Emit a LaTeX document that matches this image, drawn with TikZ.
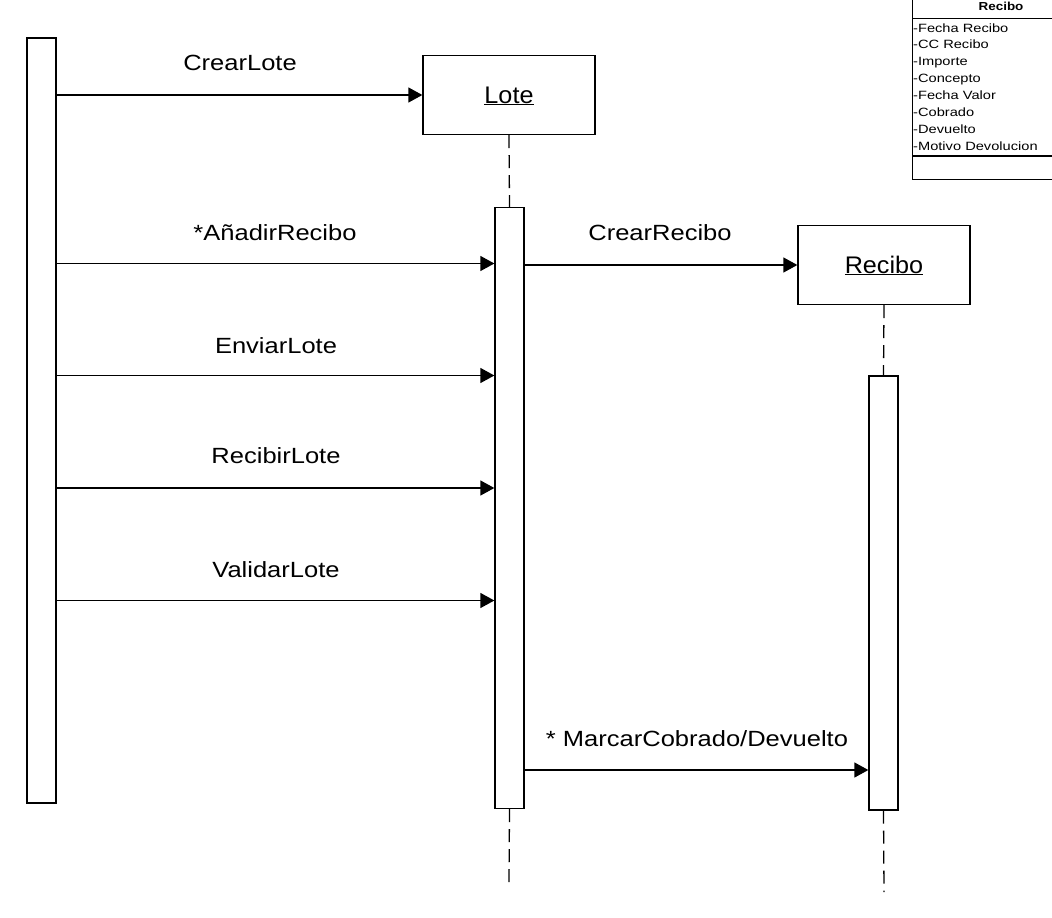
\documentclass[tikz,border=0pt]{standalone}
\usepackage{fontspec}
\setmainfont{Liberation Sans}
\usepackage{graphicx}
\usetikzlibrary{arrows.meta}
\newcommand{\msgtxt}[1]{\scalebox{1.16}[1]{\fontsize{22}{26}\selectfont #1}}
\newcommand{\objtxt}[1]{\scalebox{1.05}[1]{\fontsize{24}{28}\selectfont\underline{#1}}}
\newcommand{\attrtxt}[1]{\scalebox{1.22}[1]{\fontsize{12}{14}\selectfont #1}}
\newcommand{\clstxt}[1]{\scalebox{1.16}[1]{\fontsize{11.6}{14}\selectfont\bfseries #1}}
\begin{document}
\begin{tikzpicture}[x=1pt,y=-1pt,
  bar/.style={draw, fill=white, line width=1.3pt, minimum width=29pt, inner sep=0pt},
  obj/.style={draw, fill=white, line width=1.3pt, minimum width=172pt, minimum height=79pt, inner sep=0pt},
  msg/.style={line width=1.3pt, -{Triangle[length=14pt,width=15pt]}},
  life/.style={line width=1.3pt, dash pattern=on 13pt off 7pt},
  lbl/.style={anchor=base, inner sep=0pt},
  attr/.style={anchor=base west, inner sep=0pt},
  clsbox/.style={draw, line width=1.3pt, inner sep=0pt}]
\useasboundingbox (0,0) rectangle (1052,918);
\clip (0,0) rectangle (1052,918);
\fill[white] (0,0) rectangle (1052,918);

% lifelines (drawn first)
\node[obj] (lote) at (509,95) {};
\node[obj] (recibo) at (884,265) {};
\coordinate (loteend) at (509,883);
\coordinate (reciboend) at (884,892);
\node[bar, minimum height=765pt] (leftbar) at (41.5,420.5) {};
\node[bar, minimum height=601pt] (lotebar) at (509.5,508) {};
\node[bar, minimum height=434pt] (recibobar) at (883.5,593) {};
\draw[life] (lote.south) -- (lotebar.north);
\draw[life] (lotebar.south) -- (loteend);
\draw[life] (recibo.south) -- (recibobar.north);
\draw[life] (recibobar.south) -- (reciboend);
% redraw boxes on top
\node[obj] at (lote) {};
\node[lbl] at (509,103) {\objtxt{Lote}};
\node[obj] at (recibo) {};
\node[lbl] at (884,273) {\objtxt{Recibo}};

% message y levels
\coordinate (m2) at (0,263.5);
\coordinate (m3) at (0,375.5);
\coordinate (m4) at (0,488);
\coordinate (m5) at (0,600.5);
\coordinate (m7) at (0,770);

\draw[msg] (leftbar.east |- lote.west) -- (lote.west);
\node[lbl] (l1) at (240,70.5) {\msgtxt{CrearLote}};
\draw[msg] (leftbar.east |- m2) -- (lotebar.west |- m2);
\node[lbl] (l2) at (275,240) {\msgtxt{*AñadirRecibo}};
\draw[msg] (lotebar.east |- recibo.west) -- (recibo.west);
\node[lbl] (l6) at (660,240) {\msgtxt{CrearRecibo}};
\draw[msg] (leftbar.east |- m3) -- (lotebar.west |- m3);
\node[lbl] (l3) at (276,353) {\msgtxt{EnviarLote}};
\draw[msg] (leftbar.east |- m4) -- (lotebar.west |- m4);
\node[lbl] (l4) at (276,463.5) {\msgtxt{RecibirLote}};
\draw[msg] (leftbar.east |- m5) -- (lotebar.west |- m5);
\node[lbl] (l5) at (276,577) {\msgtxt{ValidarLote}};
\draw[msg] (lotebar.east |- m7) -- (recibobar.west |- m7);
\node[lbl] (l7) at (697,746) {\msgtxt{* MarcarCobrado/Devuelto}};

% class box
\node[clsbox, anchor=north west, minimum width=180pt, minimum height=181pt] (cls) at (912,-2) {};
\coordinate (s1) at (0,18.5);
\coordinate (s2) at (0,156);
\draw[line width=1.3pt] (cls.west |- s1) -- (cls.east |- s1);
\draw[line width=1.3pt] (cls.west |- s2) -- (cls.east |- s2);
\node[lbl] (ctitle) at (1001,10) {\clstxt{Recibo}};
\node[attr] at (913,32) {\attrtxt{-Fecha Recibo}};
\node[attr] at (913,48.9) {\attrtxt{-CC Recibo}};
\node[attr] at (913,65.8) {\attrtxt{-Importe}};
\node[attr] at (913,82.7) {\attrtxt{-Concepto}};
\node[attr] at (913,99.6) {\attrtxt{-Fecha Valor}};
\node[attr] at (913,116.5) {\attrtxt{-Cobrado}};
\node[attr] at (913,133.4) {\attrtxt{-Devuelto}};
\node[attr] at (913,150.3) {\attrtxt{-Motivo Devolucion}};
\end{tikzpicture}
\end{document}
